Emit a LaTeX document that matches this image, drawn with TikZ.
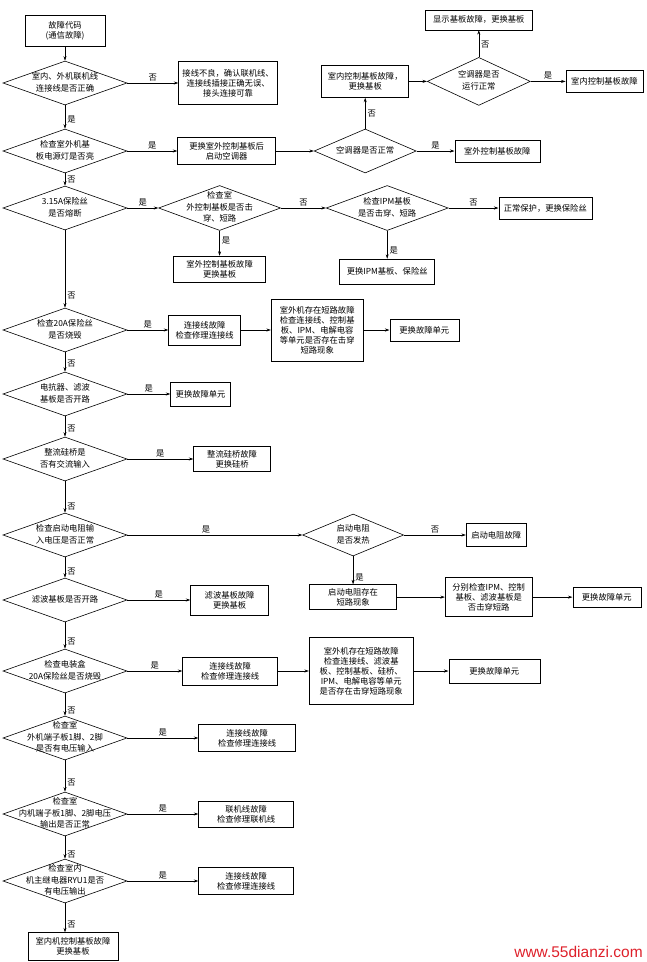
\documentclass[tikz,border=0pt]{standalone}
\usepackage{fontspec}
\setmainfont{Noto Sans CJK SC}
\newfontfamily\wmfont{Liberation Sans}
\usetikzlibrary{positioning,arrows.meta,shapes.geometric}
\definecolor{wmred}{RGB}{222,32,42}
\newcommand{\dlines}[1]{\makebox[0pt]{\smash{\raisebox{-2pt}{\begin{tabular}{@{}c@{}}#1\end{tabular}}}}}

\begin{document}
\begin{tikzpicture}[x=1pt, y=-1pt, line width=0.6pt, >={Stealth[length=4.5pt,width=3pt]}, every node/.style={font=\fontsize{8.3}{10}\selectfont}]
\tikzstyle{box}=[draw, inner sep=3pt, align=center]
\tikzstyle{dia}=[draw, diamond, inner sep=0pt, minimum width=124pt, minimum height=44pt, font=\fontsize{8.3}{11.5}\selectfont]
\tikzstyle{yn}=[inner sep=2pt]
\useasboundingbox (0,0) rectangle (647,962);
\node[box, minimum width=80pt, minimum height=31pt] (s0) at (65,31) {故障代码\\(通信故障)};
\node[dia] (d1) at (65,83) {\dlines{室内、外机联机线\\连接线是否正确}};
\node[box, minimum width=99pt, minimum height=43pt, right=51pt of d1] (b1) {接线不良，确认联机线、\\连接线插接正确无误、\\接头连接可靠};
\node[dia] (d2) at (65,151) {\dlines{检查室外机基\\板电源灯是否亮}};
\node[box, minimum width=98pt, minimum height=27pt, right=50pt of d2] (b2) {更换室外控制基板后\\启动空调器};
\node[dia, minimum width=102pt, right=38pt of b2] (d3) {\dlines{空调器是否正常}};
\node[box, minimum width=85pt, minimum height=22pt, right=38pt of d3] (b3) {室外控制基板故障};
\node[box, minimum width=87pt, minimum height=32pt, above=31pt of d3] (b4) {室内控制基板故障，\\更换基板};
\node[dia, minimum width=103pt, minimum height=48pt, right=18pt of b4] (d4) {\dlines{空调器是否\\运行正常}};
\node[box, minimum width=77pt, minimum height=22pt, right=35pt of d4] (b5) {室内控制基板故障};
\node[box, minimum width=107pt, minimum height=20pt, above=27pt of d4] (b6) {显示基板故障，更换基板};
\node[dia] (d5) at (65,208) {\dlines{3.15A保险丝\\是否熔断}};
\node[dia, minimum width=122pt, minimum height=45pt, right=31pt of d5] (d6) {\dlines{检查室\\外控制基板是否击\\穿、短路}};
\node[dia, minimum width=122pt, minimum height=45pt, right=45pt of d6] (d7) {\dlines{检查IPM基板\\是否击穿、短路}};
\node[box, minimum width=93pt, minimum height=22pt, right=50pt of d7] (b7) {正常保护，更换保险丝};
\node[box, minimum width=95pt, minimum height=25pt, below=28pt of d7] (b8) {更换IPM基板、保险丝};
\node[box, minimum width=92pt, minimum height=26pt, below=25pt of d6] (b9) {室外控制基板故障\\更换基板};
\node[dia] (d8) at (65,330) {\dlines{检查20A保险丝\\是否烧毁}};
\node[box, minimum width=72pt, minimum height=30pt, right=41pt of d8] (b10) {连接线故障\\检查修理连接线};
\node[box, minimum width=92pt, minimum height=62pt, right=30pt of b10] (b11) {室外机存在短路故障\\检查连接线、控制基\\板、IPM、电解电容\\等单元是否存在击穿\\短路现象};
\node[box, minimum width=69pt, minimum height=22pt, right=26pt of b11] (b12) {更换故障单元};
\node[dia] (d9) at (65,394) {\dlines{电抗器、滤波\\基板是否开路}};
\node[box, minimum width=60pt, minimum height=24pt, right=43pt of d9] (b13) {更换故障单元};
\node[dia] (d10) at (65,459) {\dlines{整流硅桥是\\否有交流输入}};
\node[box, minimum width=77pt, minimum height=25pt, right=66pt of d10] (b14) {整流硅桥故障\\更换硅桥};
\node[dia] (d11) at (65,535) {\dlines{检查启动电阻输\\入电压是否正常}};
\node[dia, minimum width=101pt, minimum height=42pt, right=175pt of d11] (d12) {\dlines{启动电阻\\是否发热}};
\node[box, minimum width=60pt, minimum height=23pt, right=62pt of d12] (b15) {启动电阻故障};
\node[box, minimum width=87pt, minimum height=25pt, below=28pt of d12] (b16) {启动电阻存在\\短路现象};
\node[box, minimum width=87pt, minimum height=39pt, right=48pt of b16] (b17) {分别检查IPM、控制\\基板、滤波基板是\\否击穿短路};
\node[box, minimum width=68pt, minimum height=20pt, right=40pt of b17] (b18) {更换故障单元};
\node[dia] (d13) at (65,600) {\dlines{滤波基板是否开路}};
\node[box, minimum width=78pt, minimum height=30pt, right=63pt of d13] (b19) {滤波基板故障\\更换基板};
\node[dia] (d14) at (65,671) {\dlines{检查电装盒\\20A保险丝是否烧毁}};
\node[box, minimum width=95pt, minimum height=28pt, right=55pt of d14] (b20) {连接线故障\\检查修理连接线};
\node[box, minimum width=104pt, minimum height=67pt, right=31pt of b20] (b21) {室外机存在短路故障\\检查连接线、滤波基\\板、控制基板、硅桥、\\IPM、电解电容等单元\\是否存在击穿短路现象};
\node[box, minimum width=91pt, minimum height=24pt, right=35pt of b21] (b22) {更换故障单元};
\node[dia] (d15) at (65,738) {\dlines{检查室\\外机端子板1脚、2脚\\是否有电压输入}};
\node[box, minimum width=97pt, minimum height=27pt, right=71pt of d15] (b23) {连接线故障\\检查修理连接线};
\node[dia] (d16) at (65,814) {\dlines{检查室\\内机端子板1脚、2脚电压\\输出是否正常}};
\node[box, minimum width=95pt, minimum height=26pt, right=71pt of d16] (b24) {联机线故障\\检查修理联机线};
\node[dia] (d17) at (65,881) {\dlines{检查室内\\机主继电器RYU1是否\\有电压输出}};
\node[box, minimum width=95pt, minimum height=27pt, right=71pt of d17] (b25) {连接线故障\\检查修理连接线};
\node[box, minimum width=90pt, minimum height=28pt, below=29pt of d17, xshift=8pt] (b26) {室内机控制基板故障\\更换基板};
\node[text=wmred, font=\wmfont\fontsize{15.5}{15.5}\selectfont, inner sep=0pt, anchor=base east] (wm) at (643,957) {www.55dianzi.com};
\draw[->] (s0) -- (d1);
\draw[->] (d1) -- node[yn, above] {否} (b1);
\draw[->] (d1) -- node[yn, right, pos=0.6] {是} (d2);
\draw[->] (d2) -- node[yn, above] {是} (b2);
\draw[->] (b2) -- (d3);
\draw[->] (d3) -- node[yn, above] {是} (b3);
\draw[->] (d3) -- node[yn, right] {否} (b4);
\draw[->] (b4) -- (d4);
\draw[->] (d4) -- node[yn, above] {是} (b5);
\draw[->] (d4) -- node[yn, right, pos=0.45] {否} (b6);
\draw[->] (d2) -- node[yn, right] {否} (d5);
\draw[->] (d5) -- node[yn, above] {是} (d6);
\draw[->] (d6) -- node[yn, above] {否} (d7);
\draw[->] (d7) -- node[yn, above] {否} (b7);
\draw[->] (d7) -- node[yn, right, pos=0.7] {是} (b8);
\draw[->] (d6) -- node[yn, right, pos=0.4] {是} (b9);
\draw[->] (d5) -- node[yn, right, pos=0.84] {否} (d8);
\draw[->] (d8) -- node[yn, above] {是} (b10);
\draw[->] (b10) -- (b11);
\draw[->] (b11) -- (b12);
\draw[->] (d8) -- node[yn, right, pos=0.6] {否} (d9);
\draw[->] (d9) -- node[yn, above] {是} (b13);
\draw[->] (d9) -- node[yn, right, pos=0.6] {否} (d10);
\draw[->] (d10) -- node[yn, above] {是} (b14);
\draw[->] (d10) -- node[yn, right, pos=0.8] {否} (d11);
\draw[->] (d11) -- node[yn, above, pos=0.45] {是} (d12);
\draw[->] (d12) -- node[yn, above] {否} (b15);
\draw[->] (d12) -- node[yn, right, pos=0.75] {是} (b16);
\draw[->] (b16) -- (b17);
\draw[->] (b17) -- (b18);
\draw[->] (d11) -- node[yn, right, pos=0.7] {否} (d13);
\draw[->] (d13) -- node[yn, above] {是} (b19);
\draw[->] (d13) -- node[yn, right, pos=0.73] {否} (d14);
\draw[->] (d14) -- node[yn, above] {是} (b20);
\draw[->] (b20) -- (b21);
\draw[->] (b21) -- (b22);
\draw[->] (d14) -- node[yn, right, pos=0.75] {否} (d15);
\draw[->] (d15) -- node[yn, above] {是} (b23);
\draw[->] (d15) -- node[yn, right, pos=0.7] {否} (d16);
\draw[->] (d16) -- node[yn, above] {是} (b24);
\draw[->] (d16) -- node[yn, right, pos=0.8] {否} (d17);
\draw[->] (d17) -- node[yn, above] {是} (b25);
\draw[->] (d17.south) -- node[yn, right, pos=0.75] {否} (d17.south |- b26.north);
\end{tikzpicture}
\end{document}
